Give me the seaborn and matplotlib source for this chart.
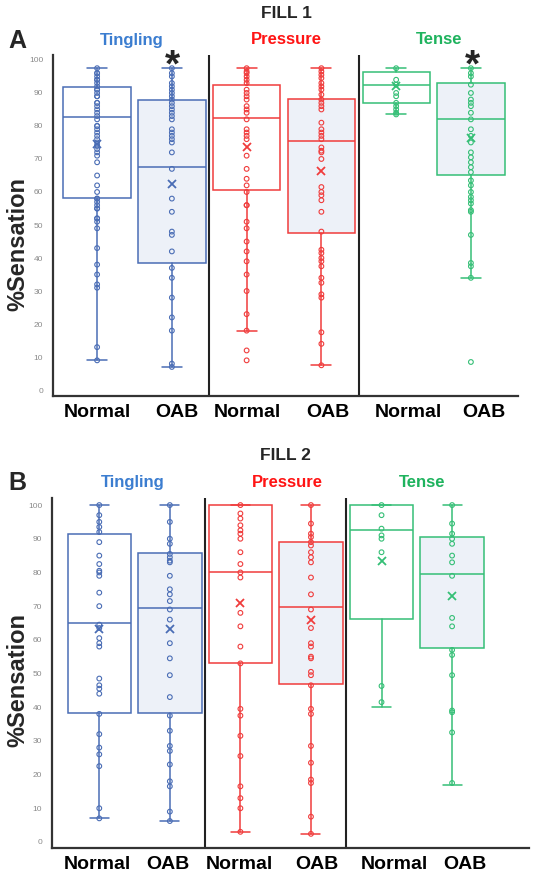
import numpy as np
import pandas as pd
import matplotlib
matplotlib.use("Agg")
import matplotlib.pyplot as plt
import seaborn as sns

# ---------------- data ----------------
GROUPS = ["Tingling", "Pressure", "Tense"]
TICK_LABELS = ["Normal", "OAB", "Normal", "OAB", "Normal", "OAB"]
PANEL_LETTERS = ["A", "B"]
PANEL_TITLES = ["FILL 1", "FILL 2"]
YTICKS = [0, 10, 20, 30, 40, 50, 60, 70, 80, 90, 100]

# FILL 1 individual points (% sensation)
F1_TINGLING_NORMAL = [97.5, 96, 96, 95, 94, 94, 93, 92, 91, 91, 90, 89, 89, 87, 87, 86, 85, 84, 83, 82,
                      80, 80, 79, 78, 77, 76, 75, 74, 74, 73, 72, 71, 69, 65, 62, 60, 58, 58, 57, 56,
                      55, 55, 52, 52, 51, 49, 43, 38, 35, 32, 31, 13, 9]
F1_TINGLING_OAB = [97.5, 96, 95, 93, 92, 91, 90, 89, 88, 87, 86, 85, 84, 83, 82, 79, 78, 77, 76, 75,
                   72, 67, 58, 54, 48, 47, 42, 37, 34, 28, 22, 18, 8, 7]
F1_PRESSURE_NORMAL = [97.5, 96.5, 96, 95, 94, 93, 91, 90, 89, 88, 86, 85, 84, 82, 79, 78, 77, 76, 71,
                      67, 64, 62, 60, 56, 56, 51, 49, 45, 42, 39, 35, 30, 23, 18, 12, 9]
F1_PRESSURE_OAB = [97.5, 96.5, 95.5, 94.5, 93, 92, 91, 89.5, 88, 87, 86, 85, 81, 79, 78, 77, 76, 73.5,
                   72.5, 72, 70, 61.5, 60, 59, 57.5, 54, 48, 42.5, 41.5, 40, 39, 37.5, 34, 32.5, 29,
                   28, 17.5, 14, 7.5]
F1_TENSE_NORMAL = [97.5, 94, 92.5, 90, 89, 87, 86, 85, 84, 83.5]
F1_TENSE_OAB = [97.5, 96, 95, 92.5, 90, 88, 87, 86, 84, 82, 79, 77, 75, 72, 70.5, 69, 67.5, 66, 63.5,
                62, 60, 58.5, 57.5, 56.5, 54.5, 54, 47, 38.5, 37.5, 34, 8.5]

# FILL 1 box statistics, order: Tingling N/OAB, Pressure N/OAB, Tense N/OAB
F1_Q1 = [58.3, 38.5, 60.5, 47.5, 87, 65]
F1_MED = [82.8, 67.5, 82.5, 75.5, 92.5, 82]
F1_Q3 = [91.7, 87.8, 92.3, 88.2, 96.5, 92.9]
F1_WLO = [9, 7, 18, 7.5, 83.5, 34]
F1_WHI = [97.5, 97.5, 97.5, 97.5, 97.5, 97.5]
F1_MEAN = [74.5, 62.5, 73.5, 66.5, 92, 76.5]

# FILL 2 individual points
F2_TINGLING_NORMAL = [100, 97, 95, 93.5, 92, 89, 85, 82.5, 80.5, 80, 79, 74, 70, 64.5, 63.5, 60.5, 59,
                      58, 48.5, 46.5, 45.5, 44, 38, 32, 28, 26, 22.5, 10, 7]
F2_TINGLING_OAB = [100, 95, 90, 88.5, 85.5, 84.5, 83.5, 83, 79, 75, 73.5, 71.5, 69, 66, 59, 54.5, 49.5,
                   43, 37.5, 33, 28.5, 27, 23, 18, 16.5, 9, 6.2]
F2_PRESSURE_NORMAL = [100, 97.5, 96, 94, 92.5, 91.5, 90, 86, 82.5, 80, 78.5, 68, 64, 58, 53, 39.5, 37.5,
                      31.5, 25.5, 16.5, 13, 10, 3]
F2_PRESSURE_OAB = [100, 94.5, 91.5, 90.5, 89, 88, 86, 84.5, 83, 78.5, 73.5, 69, 63.5, 59, 58, 55, 54.5,
                   50.5, 49.5, 46.5, 39.5, 38, 28.5, 23.5, 18.5, 17.5, 7.5, 2.4]
F2_TENSE_NORMAL = [100, 97, 93, 91, 90, 86, 46.3, 41.5]
F2_TENSE_OAB = [100, 94.5, 91.5, 90, 88.5, 85, 83, 79, 66.5, 64, 57, 55.5, 49.5, 39, 38.5, 32.5, 17.5]

# FILL 2 box statistics, same order
F2_Q1 = [38.3, 38.3, 53, 46.9, 66.2, 57.6]
F2_MED = [65, 69.4, 80.1, 69.7, 92.6, 79.5]
F2_Q3 = [91.4, 85.8, 100, 89, 100, 90.5]
F2_WLO = [7.1, 6.2, 3, 2.4, 40, 16.9]
F2_WHI = [100, 100, 100, 100, 100, 100]
F2_MEAN = [63.2, 63.2, 70.9, 65.9, 83.4, 73]

# ---------------- styling ----------------
W, H = 534, 876
BLUE, RED, GREEN = "#4a6db5", "#f03c3c", "#35bf76"
TITLE_COLORS = ["#3b7dd0", "#ff1414", "#1fb35e"]
BOX_COLORS = [BLUE, BLUE, RED, RED, GREEN, GREEN]
OAB_FILL = "#edf1f8"
POSITIONS = [0, 1, 2, 3, 4, 5]

sns.set_style("white")
plt.rcParams["font.family"] = ["Liberation Sans", "DejaVu Sans"]

fig = plt.figure(figsize=(W / 100, H / 100), dpi=100)


def px(x, y):
    return x / W, 1 - y / H


def draw_panel(left, top, right, bottom, series, q1, med, q3, wlo, whi, mean, ylim, xlim, label_pos):
    ax = fig.add_axes([left / W, 1 - bottom / H, (right - left) / W, (bottom - top) / H])
    stats = [dict(q1=q1[i], med=med[i], q3=q3[i], whislo=wlo[i], whishi=whi[i],
                  mean=mean[i], fliers=[]) for i in range(6)]
    bp = ax.bxp(stats, positions=POSITIONS, widths=0.9, capwidths=0.27, patch_artist=True,
                showmeans=True, showfliers=False, manage_ticks=False)
    for i in range(6):
        c = BOX_COLORS[i]
        bp["boxes"][i].set(facecolor=OAB_FILL if i % 2 else "white", edgecolor=c, linewidth=1.1, zorder=2)
        bp["medians"][i].set(color=c, linewidth=1.1, zorder=3)
        for ln in bp["whiskers"][2 * i:2 * i + 2] + bp["caps"][2 * i:2 * i + 2]:
            ln.set(color=c, linewidth=1.1, zorder=3)
        bp["means"][i].set(marker="x", markeredgecolor=c, markerfacecolor=c,
                           markersize=5.5, markeredgewidth=1.3, zorder=6)

    rows = []
    for i, vals in enumerate(series):
        for v in vals:
            rows.append({"pos": POSITIONS[i], "key": f"k{i}", "value": v})
    df = pd.DataFrame(rows)
    pal = {f"k{i}": BOX_COLORS[i] for i in range(6)}
    sns.stripplot(data=df, x="pos", y="value", hue="key", palette=pal, native_scale=True,
                  orient="x", jitter=False, size=3.4, linewidth=0.8, legend=False, ax=ax, zorder=5)
    for coll in ax.collections:
        offs = coll.get_offsets()
        if len(offs) == 0:
            continue
        idx = int(round(offs[0, 0]))
        coll.set_facecolor("none")
        coll.set_edgecolor(BOX_COLORS[idx])

    for xs in (1.5, 3.5):
        ax.axvline(xs, color="#222222", linewidth=1.5, zorder=1)

    ax.set_xlim(*xlim)
    ax.set_ylim(*ylim)
    ax.set_xticks(label_pos)
    ax.set_xticklabels(TICK_LABELS, fontsize=14, fontweight="bold", color="black")
    ax.set_yticks(YTICKS)
    ax.set_yticklabels([str(t) for t in YTICKS], fontsize=6, color="#8a8a8a")
    ax.tick_params(axis="x", length=0, pad=6)
    ax.tick_params(axis="y", length=0, pad=7)
    ax.set_xlabel("")
    ax.set_ylabel("")
    for s in ("top", "right"):
        ax.spines[s].set_visible(False)
    for s in ("left", "bottom"):
        ax.spines[s].set_color("#333333")
        ax.spines[s].set_linewidth(1.6)
    ax.grid(False)
    return ax


axA = draw_panel(53, 55, 518, 396,
                 [F1_TINGLING_NORMAL, F1_TINGLING_OAB, F1_PRESSURE_NORMAL, F1_PRESSURE_OAB,
                  F1_TENSE_NORMAL, F1_TENSE_OAB],
                 F1_Q1, F1_MED, F1_Q3, F1_WLO, F1_WHI, F1_MEAN,
                 ylim=(-1.8, 101.5), xlim=(-0.59, 5.63),
                 label_pos=[0, 1.07, 2.01, 3.09, 4.17, 5.17])
axB = draw_panel(52, 498, 529, 848,
                 [F2_TINGLING_NORMAL, F2_TINGLING_OAB, F2_PRESSURE_NORMAL, F2_PRESSURE_OAB,
                  F2_TENSE_NORMAL, F2_TENSE_OAB],
                 F2_Q1, F2_MED, F2_Q3, F2_WLO, F2_WHI, F2_MEAN,
                 ylim=(-1.8, 102.1), xlim=(-0.67, 6.09),
                 label_pos=[-0.03, 0.97, 1.98, 3.09, 4.18, 5.18])

# ---------------- annotations ----------------
# panel A
fig.text(*px(286, 14), PANEL_TITLES[0], ha="center", va="center", fontsize=12.5, fontweight="bold")
fig.text(*px(17, 41), PANEL_LETTERS[0], ha="center", va="center", fontsize=18, fontweight="bold")
for cx, name, col in zip([132, 286, 439], GROUPS, TITLE_COLORS):
    fig.text(*px(cx, 40), name, ha="center", va="center", fontsize=12, fontweight="bold", color=col)
fig.text(*px(18, 244), "%Sensation", ha="center", va="center", rotation=90, fontsize=17, fontweight="bold")
for cx in (172, 472):
    fig.text(*px(cx, 66), "*", ha="center", va="center", fontsize=28, fontweight="bold")

# panel B
fig.text(*px(285, 455), PANEL_TITLES[1], ha="center", va="center", fontsize=12.5, fontweight="bold")
fig.text(*px(17, 483), PANEL_LETTERS[1], ha="center", va="center", fontsize=18, fontweight="bold")
for cx, name, col in zip([133, 287, 422], GROUPS, TITLE_COLORS):
    fig.text(*px(cx, 482), name, ha="center", va="center", fontsize=12, fontweight="bold", color=col)
fig.text(*px(18, 680), "%Sensation", ha="center", va="center", rotation=90, fontsize=17, fontweight="bold")

fig.savefig("out.png", dpi=100)
